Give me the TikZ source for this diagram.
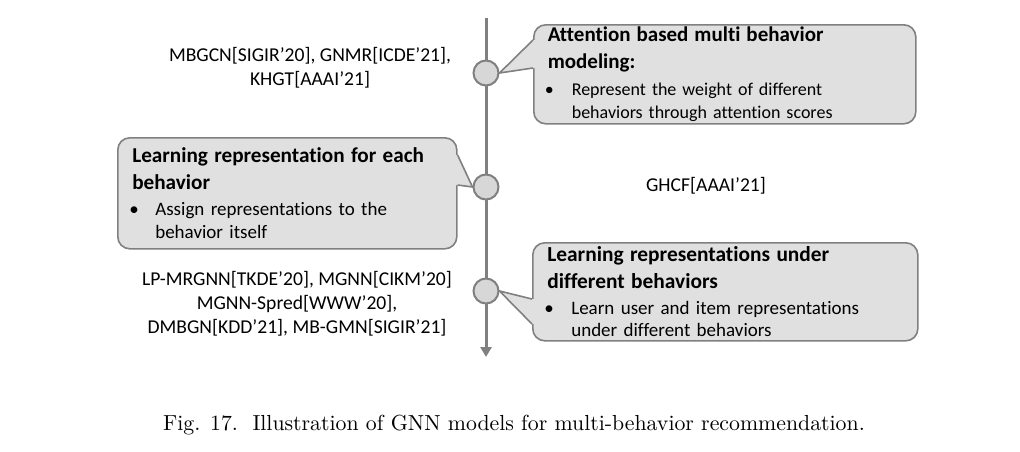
\documentclass[tikz,border=0pt]{standalone}
\usepackage{fontspec}
\setmainfont{Carlito}[Ligatures={NoCommon}]
\newfontfamily\capfont{Latin Modern Roman}
\usetikzlibrary{arrows.meta,calc}
\definecolor{lgray}{RGB}{128,128,128}
\definecolor{boxfill}{RGB}{224,224,224}
\definecolor{dotfill}{RGB}{215,215,215}
\begin{document}
\begin{tikzpicture}[x=0.5pt,y=-0.5pt,
		axis/.style={draw=lgray,line width=1.5pt,-{Triangle[length=5pt,width=5.5pt]}},
		dot/.style={circle,draw=lgray,fill=dotfill,line width=1pt,minimum size=12.5pt,inner sep=0pt},
		callbox/.style={draw=lgray,fill=boxfill,line width=0.8pt,rounded corners=6pt,anchor=north west,inner xsep=7pt,inner ysep=0pt,align=left,font=\fontsize{9}{11.6}\selectfont},
		tipline/.style={draw=lgray,line width=0.8pt},
		cites/.style={align=center,font=\fontsize{9.8}{12}\selectfont}]
			\useasboundingbox (0,0) rectangle (1020,451);
			\coordinate (top) at (486,18);
			\coordinate (bot) at (486,357);
			\draw[axis] (top)--(bot);
			\node[dot] (c1) at (486,73) {};
			\node[dot] (c2) at (486,187) {};
			\node[dot] (c3) at (486,291) {};
			\node[callbox,minimum width=191pt,minimum height=49.5pt,text width=177pt] (att) at (533,24) {{\fontsize{10.5}{12}\selectfont\bfseries Attention based multi behavior\\[2pt]modeling:}\\[2pt]\hspace*{-1.5pt}\makebox[13.5pt][l]{\textbullet}Represent the weight of different\\\hspace*{12pt}behaviors through attention scores};
			\node[callbox,minimum width=169.5pt,minimum height=55.5pt,text width=155pt,font=\fontsize{9.5}{11.6}\selectfont] (each) at (117,137) {{\fontsize{10.6}{12}\selectfont\bfseries Learning representation for each\\[1.5pt]behavior}\\[1.5pt]\hspace*{-1.5pt}\makebox[13pt][l]{\textbullet}Assign representations to the\\\hspace*{11.5pt}behavior itself};
			\node[callbox,minimum width=192.5pt,minimum height=49pt,text width=178pt,font=\fontsize{9.5}{11.4}\selectfont] (under) at (532,242) {{\fontsize{10.7}{12}\selectfont\bfseries Learning representations under\\[2pt]different behaviors}\\[1.5pt]\hspace*{-1.5pt}\makebox[13.5pt][l]{\textbullet}Learn user and item representations\\\hspace*{12pt}under different behaviors};
			\fill[boxfill] ($(att.north west)+(0,16)$)--(c1.east)--($(att.north west)+(0,44)$)--($(att.north west)+(3,44)$)--($(att.north west)+(3,16)$)--cycle;
			\draw[tipline] ($(att.north west)+(0,16)$)--(c1.east)--($(att.north west)+(0,44)$);
			\fill[boxfill] ($(each.north east)+(0,18)$)--(c2.west)--($(each.north east)+(0,48)$)--($(each.north east)+(-3,48)$)--($(each.north east)+(-3,18)$)--cycle;
			\draw[tipline] ($(each.north east)+(0,18)$)--(c2.west)--($(each.north east)+(0,48)$);
			\fill[boxfill] ($(under.north west)+(0,57)$)--(c3.east)--($(under.north west)+(0,82)$)--($(under.north west)+(3,82)$)--($(under.north west)+(3,57)$)--cycle;
			\draw[tipline] ($(under.north west)+(0,57)$)--(c3.east)--($(under.north west)+(0,82)$);
			\node[cites] (refa) at (310,68) {MBGCN[SIGIR’20], GNMR[ICDE’21],\\KHGT[AAAI’21]};
			\node[cites] (refb) at (706,186) {GHCF[AAAI’21]};
			\node[cites] (refc) at (297,304) {LP-MRGNN[TKDE’20], MGNN[CIKM’20]\\MGNN-Spred[WWW’20],\\DMBGN[KDD’21], MB-GMN[SIGIR’21]};
			\node[font=\capfont\fontsize{10.9}{13}\selectfont] (cap) at (514,425) {Fig. 17.\ \ Illustration of GNN models for multi-behavior recommendation.};
		\end{tikzpicture}
\end{document}
